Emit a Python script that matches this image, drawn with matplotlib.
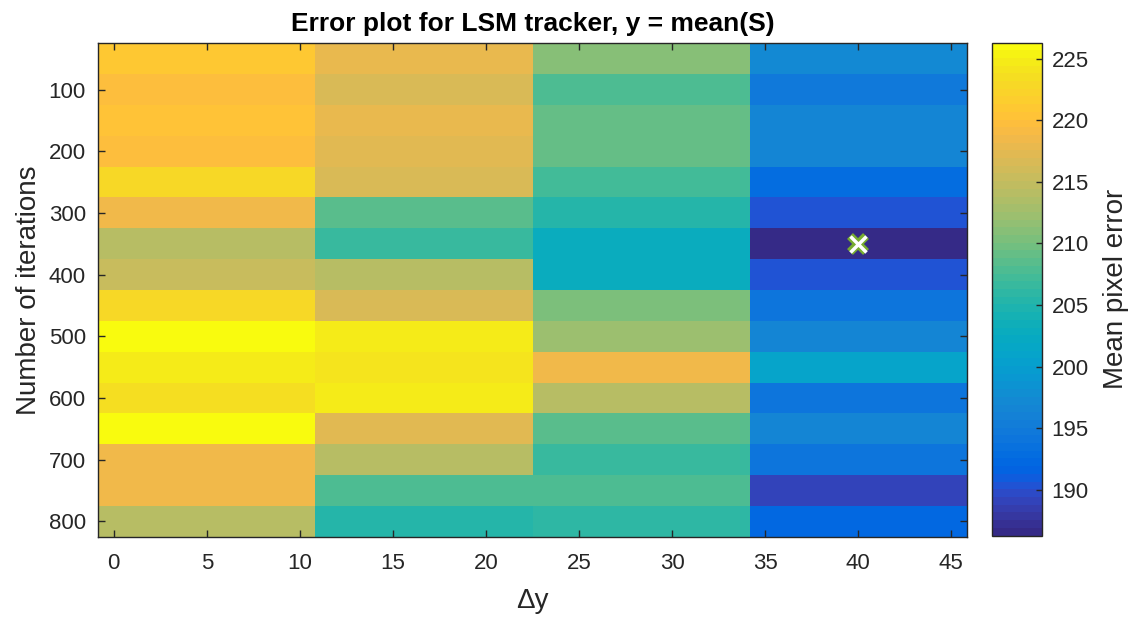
import numpy as np
import matplotlib
matplotlib.use("Agg")
import matplotlib.pyplot as plt
from matplotlib.colors import ListedColormap

# Parula colour table (64 entries)
parula_data = [
    [0.2081, 0.1663, 0.5292], [0.2116, 0.1898, 0.5777], [0.2123, 0.2138, 0.6270],
    [0.2081, 0.2386, 0.6771], [0.1959, 0.2645, 0.7279], [0.1707, 0.2919, 0.7792],
    [0.1253, 0.3242, 0.8303], [0.0591, 0.3598, 0.8683], [0.0117, 0.3875, 0.8820],
    [0.0060, 0.4086, 0.8828], [0.0165, 0.4266, 0.8786], [0.0329, 0.4430, 0.8720],
    [0.0498, 0.4586, 0.8641], [0.0629, 0.4737, 0.8554], [0.0723, 0.4887, 0.8467],
    [0.0779, 0.5040, 0.8384], [0.0793, 0.5200, 0.8312], [0.0749, 0.5375, 0.8263],
    [0.0641, 0.5570, 0.8240], [0.0488, 0.5772, 0.8228], [0.0343, 0.5966, 0.8199],
    [0.0265, 0.6137, 0.8135], [0.0239, 0.6287, 0.8038], [0.0231, 0.6418, 0.7913],
    [0.0228, 0.6535, 0.7768], [0.0267, 0.6642, 0.7607], [0.0384, 0.6743, 0.7436],
    [0.0590, 0.6838, 0.7254], [0.0843, 0.6928, 0.7062], [0.1133, 0.7015, 0.6859],
    [0.1453, 0.7098, 0.6646], [0.1801, 0.7177, 0.6424], [0.2178, 0.7250, 0.6193],
    [0.2586, 0.7317, 0.5954], [0.3022, 0.7376, 0.5712], [0.3482, 0.7424, 0.5473],
    [0.3953, 0.7459, 0.5244], [0.4420, 0.7481, 0.5033], [0.4871, 0.7491, 0.4840],
    [0.5300, 0.7491, 0.4661], [0.5709, 0.7485, 0.4494], [0.6099, 0.7473, 0.4337],
    [0.6473, 0.7456, 0.4188], [0.6834, 0.7435, 0.4044], [0.7184, 0.7411, 0.3905],
    [0.7525, 0.7384, 0.3768], [0.7858, 0.7356, 0.3633], [0.8185, 0.7327, 0.3498],
    [0.8507, 0.7299, 0.3360], [0.8824, 0.7274, 0.3217], [0.9139, 0.7258, 0.3063],
    [0.9450, 0.7261, 0.2886], [0.9739, 0.7314, 0.2666], [0.9938, 0.7455, 0.2403],
    [0.9990, 0.7653, 0.2164], [0.9955, 0.7861, 0.1967], [0.9880, 0.8066, 0.1794],
    [0.9789, 0.8271, 0.1633], [0.9697, 0.8481, 0.1475], [0.9626, 0.8705, 0.1309],
    [0.9589, 0.8949, 0.1132], [0.9598, 0.9218, 0.0948], [0.9661, 0.9514, 0.0755],
    [0.9763, 0.9831, 0.0538],
]
parula = ListedColormap(parula_data, name="parula")

# Parameter grid
delta_y = np.linspace(5, 40, 4)
iterations = np.arange(50, 801, 50)

# Mean pixel error, one list per delta_y column (rows follow `iterations`)
err_dy5 = [220.9, 219.5, 220.3, 219.5, 223.1, 218.7, 213.9, 215.1,
           223.1, 226.3, 224.9, 223.7, 226.3, 218.7, 218.7, 213.9]
err_dy17 = [217.9, 216.3, 217.9, 217.3, 216.3, 208.5, 206.7, 213.9,
            216.3, 224.9, 223.8, 224.9, 217.5, 214.3, 207.9, 205.3]
err_dy28 = [211.1, 207.9, 209.1, 208.9, 207.3, 205.3, 203.1, 202.7,
            210.4, 212.3, 218.7, 214.3, 208.5, 206.7, 207.9, 205.9]
err_dy40 = [197.5, 194.5, 196.9, 196.9, 192.9, 190.1, 186.3, 190.1,
            193.9, 196.9, 201.1, 193.9, 196.9, 193.9, 188.9, 192.3]

S = np.column_stack([err_dy5, err_dy17, err_dy28, err_dy40])

# Best parameter pair
best_row, best_col = np.unravel_index(np.argmin(S), S.shape)

plt.rcParams["font.family"] = ["Liberation Sans", "DejaVu Sans"]
ink = (0.15, 0.15, 0.15)

fig = plt.figure(figsize=(11.37, 6.17), dpi=100)
W, H = 1137, 617
ax = fig.add_axes([98.3 / W, 1 - 536.7 / H, (966.7 - 98.3) / W, (536.7 - 43.3) / H])
cax = fig.add_axes([992.3 / W, 1 - 535.5 / H, (1041.7 - 992.3) / W, (535.5 - 42.5) / H])


def edges(c):
    d = np.diff(c)
    return np.concatenate([[c[0] - d[0] / 2], c[:-1] + d / 2, [c[-1] + d[-1] / 2]])


mesh = ax.pcolormesh(edges(delta_y), edges(iterations), S, cmap=parula,
                     vmin=S.min(), vmax=S.max(), shading="flat")
ax.set_xlim(edges(delta_y)[0], edges(delta_y)[-1])
ax.set_ylim(edges(iterations)[-1], edges(iterations)[0])

ax.plot(delta_y[best_col], iterations[best_row], marker="x", ls="none",
        ms=12, mew=6, color="#77ac30")
ax.plot(delta_y[best_col], iterations[best_row], marker="x", ls="none",
        ms=11, mew=2.5, color="white")

ax.set_xticks(np.arange(0, 46, 5))
ax.set_yticks(np.arange(100, 801, 100))
ax.tick_params(direction="in", length=5, width=1.0, colors=ink, labelsize=16,
               top=True, right=True)
ax.tick_params(axis="x", pad=12)
ax.tick_params(axis="y", pad=9)
for s in ax.spines.values():
    s.set_color(ink)
    s.set_linewidth(1.0)

ax.set_xlabel("\u0394y", fontsize=20, color=ink, labelpad=10)
ax.set_ylabel("Number of iterations", fontsize=20, color=ink, labelpad=5)
ax.set_title("Error plot for LSM tracker, y = mean(S)", fontsize=19,
             fontweight="bold", color="black", pad=9)

cb = fig.colorbar(mesh, cax=cax)
cb.set_ticks(np.arange(190, 226, 5))
cb.ax.tick_params(direction="in", length=4, width=1.0, colors=ink, labelsize=16, pad=7)
cb.outline.set_edgecolor(ink)
cb.outline.set_linewidth(1.0)
cb.set_label("Mean pixel error", fontsize=20, color=ink, labelpad=10)

fig.savefig("out.png", dpi=100, facecolor="white")
